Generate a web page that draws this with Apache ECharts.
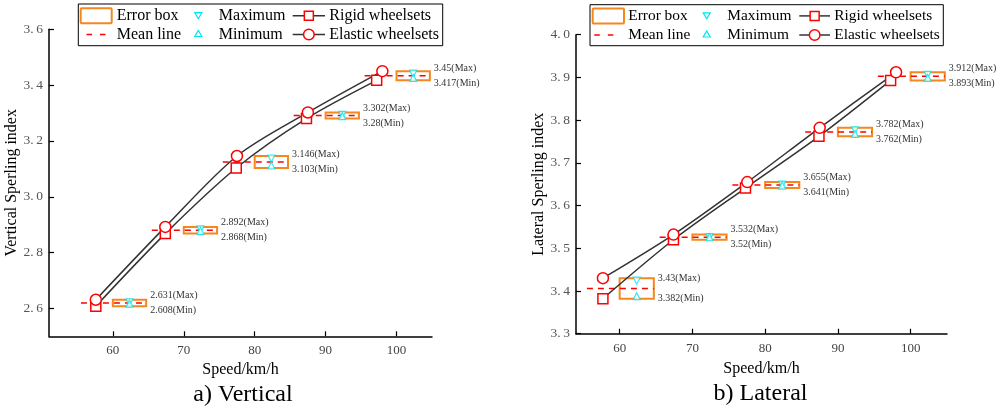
<!DOCTYPE html>
<html>
<head>
<meta charset="utf-8">
<script src="https://cdn.jsdelivr.net/npm/echarts@6/dist/echarts.min.js"></script>
<style>
html,body{margin:0;padding:0;background:#fff;}
#main{width:1000px;height:409px;}
</style>
</head>
<body>
<div id="main"></div>
<script>
// ---------- data ----------
const xTicks = [60, 70, 80, 90, 100];
const vTicks = [2.6, 2.8, 3.0, 3.2, 3.4, 3.6];
const lTicks = [3.3, 3.4, 3.5, 3.6, 3.7, 3.8, 3.9, 4.0];

const boxLeft = [60, 70, 80, 90, 100];
const boxRight = [64.7, 74.7, 84.7, 94.7, 104.7];
const meanStart = [55.5, 65.5, 75.5, 85.5, 95.5];

const vRigidSpeed = [57.6, 67.4, 77.4, 87.3, 97.2];
const vElasticSpeed = [57.6, 67.4, 77.5, 87.5, 98.0];
const vMax = [2.631, 2.892, 3.146, 3.302, 3.45];
const vMin = [2.608, 2.868, 3.103, 3.28, 3.417];

const lRigidSpeed = [57.7, 67.4, 77.3, 87.4, 97.25];
const lElasticSpeed = [57.7, 67.4, 77.55, 87.5, 98.0];
const lMax = [3.43, 3.532, 3.655, 3.782, 3.912];
const lMin = [3.382, 3.52, 3.641, 3.762, 3.893];

// ---------- styles ----------
const SERIF = '"Liberation Serif", "Times New Roman", serif';
const RED = '#ff0000';
const ORANGE = '#f5871f';
const CYAN = '#00e5f0';
const LINE = '#333333';

function makeSeries(k, rigidX, elasticX, maxV, minV) {
  const boxData = boxLeft.map((l, i) => [l, boxRight[i], maxV[i], minV[i]]);
  const meanData = boxLeft.map((l, i) => [meanStart[i], boxRight[i], (maxV[i] + minV[i]) / 2]);
  const maxData = boxLeft.map((l, i) => [(l + boxRight[i]) / 2, maxV[i]]);
  const minData = boxLeft.map((l, i) => [(l + boxRight[i]) / 2, minV[i]]);
  const lblData = boxLeft.map((l, i) => [boxRight[i], maxV[i], minV[i]]);
  return [
    {
      type: 'custom', xAxisIndex: k, yAxisIndex: k, z: 2,
      data: boxData,
      encode: {x: [0, 1], y: [2, 3]},
      renderItem: function (params, api) {
        const p1 = api.coord([api.value(0), api.value(2)]);
        const p2 = api.coord([api.value(1), api.value(3)]);
        return {type: 'rect', shape: {x: p1[0], y: p1[1], width: p2[0] - p1[0], height: p2[1] - p1[1]},
          style: {fill: '#fff', stroke: ORANGE, lineWidth: 2}};
      }
    },
    {
      type: 'custom', xAxisIndex: k, yAxisIndex: k, z: 3,
      data: meanData,
      encode: {x: [0, 1], y: 2},
      renderItem: function (params, api) {
        const p1 = api.coord([api.value(0), api.value(2)]);
        const p2 = api.coord([api.value(1), api.value(2)]);
        return {type: 'line', shape: {x1: p1[0], y1: p1[1], x2: p2[0], y2: p2[1]},
          style: {stroke: RED, lineWidth: 1.5, lineDash: [6, 5]}};
      }
    },
    {
      type: 'scatter', xAxisIndex: k, yAxisIndex: k, z: 4,
      data: maxData, symbol: 'triangle', symbolRotate: 180, symbolSize: 7, symbolOffset: [0, 2.5],
      itemStyle: {color: '#fff', borderColor: CYAN, borderWidth: 1.2}, silent: true
    },
    {
      type: 'scatter', xAxisIndex: k, yAxisIndex: k, z: 4,
      data: minData, symbol: 'triangle', symbolSize: 7, symbolOffset: [0, -2.5],
      itemStyle: {color: '#fff', borderColor: CYAN, borderWidth: 1.2}, silent: true
    },
    {
      type: 'custom', xAxisIndex: k, yAxisIndex: k, z: 5,
      data: lblData,
      encode: {x: 0, y: [1, 2]},
      renderItem: function (params, api) {
        const mx = api.value(1), mn = api.value(2);
        const pMax = api.coord([api.value(0), mx]);
        const pMin = api.coord([api.value(0), mn]);
        const pMid = api.coord([api.value(0), (mx + mn) / 2]);
        const yTop = Math.min(pMax[1], pMid[1] - 7.5);
        const yBot = Math.max(pMin[1], pMid[1] + 7.5);
        return {type: 'group', children: [
          {type: 'text', x: pMax[0] + 4, y: yTop, style: {text: mx + '(Max)', font: '10px ' + SERIF, fill: '#333', verticalAlign: 'middle', align: 'left'}},
          {type: 'text', x: pMin[0] + 4, y: yBot, style: {text: mn + '(Min)', font: '10px ' + SERIF, fill: '#333', verticalAlign: 'middle', align: 'left'}}
        ]};
      }
    },
    {
      name: 'Rigid wheelsets', type: 'line', xAxisIndex: k, yAxisIndex: k, z: 6,
      data: rigidX.map((x, i) => [x, minV[i]]),
      smooth: 0.3, symbol: 'rect', symbolSize: 10, showAllSymbol: true,
      lineStyle: {color: LINE, width: 1.5},
      itemStyle: {color: '#fff', borderColor: RED, borderWidth: 1.5}
    },
    {
      name: 'Elastic wheelsets', type: 'line', xAxisIndex: k, yAxisIndex: k, z: 6,
      data: elasticX.map((x, i) => [x, maxV[i]]),
      smooth: 0.3, symbol: 'circle', symbolSize: 11, showAllSymbol: true,
      lineStyle: {color: LINE, width: 1.5},
      itemStyle: {color: '#fff', borderColor: RED, borderWidth: 1.5}
    }
  ];
}

function xAxis(k, min, gap) {
  return {
    type: 'value', gridIndex: k, min: min, max: 105,
    name: 'Speed/km/h', nameLocation: 'middle', nameGap: gap,
    nameTextStyle: {color: '#000', fontFamily: SERIF, fontSize: 16},
    axisLine: {show: true, onZero: false, lineStyle: {color: '#000', width: 1.5}},
    axisTick: {show: true, inside: true, length: 5, customValues: xTicks, lineStyle: {color: '#000', width: 1.2}},
    axisLabel: {customValues: xTicks, fontFamily: SERIF, fontSize: 13, color: '#444', margin: 8},
    splitLine: {show: false}
  };
}
function yAxis(k, min, max, ticks, name, gap) {
  return {
    type: 'value', gridIndex: k, min: min, max: max,
    name: name, nameLocation: 'middle', nameGap: gap,
    nameTextStyle: {fontFamily: SERIF, fontSize: 16, color: '#000'},
    axisLine: {show: true, onZero: false, lineStyle: {color: '#000', width: 1.5}},
    axisTick: {show: true, inside: true, length: 5, customValues: ticks, lineStyle: {color: '#000', width: 1.2}},
    axisLabel: {customValues: ticks, fontFamily: SERIF, fontSize: 13.5, color: '#555', margin: 6,
      formatter: v => Number(v).toFixed(1).replace('.', '.\u2009')},
    splitLine: {show: false}
  };
}

function legend(p) {
  const fs = p.fs;
  const font = fs + 'px ' + SERIF;
  const r1 = p.r1, r2 = p.r2;
  const t = 3.5;
  const sx = (p.ser[0] + p.ser[1]) / 2;
  return {type: 'group', silent: true, children: [
    {type: 'rect', shape: {x: p.box[0], y: p.box[1], width: p.box[2] - p.box[0], height: p.box[3] - p.box[1]},
      style: {fill: '#fff', stroke: '#000', lineWidth: 1}},
    {type: 'rect', shape: {x: p.err[0], y: r1 - 7.5, width: p.err[1] - p.err[0], height: 15, r: 1},
      style: {fill: '#fff', stroke: ORANGE, lineWidth: 2}},
    {type: 'text', x: p.t1, y: r1, style: {text: 'Error box', font: font, fill: '#000', verticalAlign: 'middle'}},
    {type: 'line', shape: {x1: p.mean[0], y1: r2, x2: p.mean[1], y2: r2}, style: {stroke: RED, lineWidth: 1.5, lineDash: [5.5, 8]}},
    {type: 'text', x: p.t1, y: r2, style: {text: 'Mean line', font: font, fill: '#000', verticalAlign: 'middle'}},
    {type: 'polygon', shape: {points: [[p.tri - t, r1 - 3], [p.tri + t, r1 - 3], [p.tri, r1 + 3]]},
      style: {fill: '#fff', stroke: CYAN, lineWidth: 1.2}},
    {type: 'text', x: p.t2, y: r1, style: {text: 'Maximum', font: font, fill: '#000', verticalAlign: 'middle'}},
    {type: 'polygon', shape: {points: [[p.tri - t, r2 + 2], [p.tri + t, r2 + 2], [p.tri, r2 - 4]]},
      style: {fill: '#fff', stroke: CYAN, lineWidth: 1.2}},
    {type: 'text', x: p.t2, y: r2, style: {text: 'Minimum', font: font, fill: '#000', verticalAlign: 'middle'}},
    {type: 'line', shape: {x1: p.ser[0], y1: r1, x2: p.ser[1], y2: r1}, style: {stroke: LINE, lineWidth: 1.5}},
    {type: 'rect', shape: {x: sx - 4.5, y: r1 - 4.5, width: 9, height: 9}, style: {fill: '#fff', stroke: RED, lineWidth: 1.5}},
    {type: 'text', x: p.t3, y: r1, style: {text: 'Rigid wheelsets', font: font, fill: '#000', verticalAlign: 'middle'}},
    {type: 'line', shape: {x1: p.ser[0], y1: r2, x2: p.ser[1], y2: r2}, style: {stroke: LINE, lineWidth: 1.5}},
    {type: 'circle', shape: {cx: sx, cy: r2, r: 5.3}, style: {fill: '#fff', stroke: RED, lineWidth: 1.5}},
    {type: 'text', x: p.t3, y: r2, style: {text: 'Elastic wheelsets', font: font, fill: '#000', verticalAlign: 'middle'}}
  ]};
}

const chart = echarts.init(document.getElementById('main'), null, {renderer: 'canvas'});
chart.setOption({
  animation: false,
  backgroundColor: '#fff',
  grid: [
    {left: 49, top: 29.3, width: 383, height: 307},
    {left: 576, top: 34.7, width: 371, height: 299}
  ],
  xAxis: [xAxis(0, 51, 25), xAxis(1, 54, 27)],
  yAxis: [
    yAxis(0, 2.5, 3.6, vTicks, 'Vertical Sperling index', 29),
    yAxis(1, 3.3, 4.0, lTicks, 'Lateral Sperling index', 28)
  ],
  series: [].concat(
    makeSeries(0, vRigidSpeed, vElasticSpeed, vMax, vMin),
    makeSeries(1, lRigidSpeed, lElasticSpeed, lMax, lMin)
  ),
  graphic: [
    legend({fs: 16, box: [78.3, 4, 442.7, 45.7], r1: 15.7, r2: 34.5, err: [80.7, 111.7], mean: [86.5, 106.5],
      t1: 116.7, tri: 198.3, t2: 218.8, ser: [292.7, 325], t3: 329.3}),
    legend({fs: 15.4, box: [590, 4.7, 943.3, 45.7], r1: 15.9, r2: 35, err: [592.7, 624], mean: [594.3, 615],
      t1: 628.3, tri: 706.7, t2: 727.3, ser: [799.3, 830], t3: 834.3}),
    {type: 'text', x: 243, y: 395, silent: true, style: {text: 'a) Vertical', font: '24px ' + SERIF, fill: '#000', align: 'center', verticalAlign: 'middle'}},
    {type: 'text', x: 760.5, y: 394, silent: true, style: {text: 'b) Lateral', font: '24px ' + SERIF, fill: '#000', align: 'center', verticalAlign: 'middle'}}
  ]
});
</script>
</body>
</html>
